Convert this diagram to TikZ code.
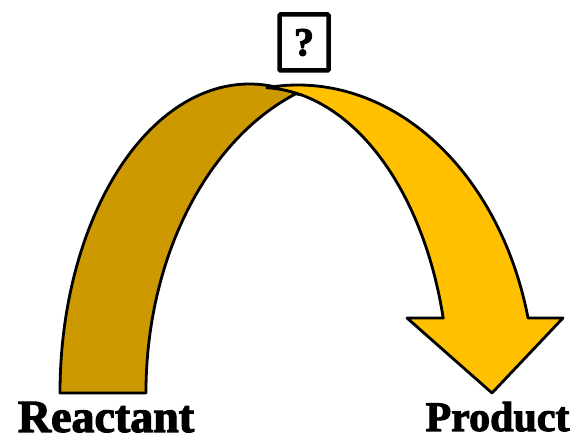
\documentclass[tikz,border=0pt]{standalone}
\usepackage{fontspec}
\newfontfamily\heavy{Liberation Serif Bold}[BoldFont={Liberation Serif Bold},BoldFeatures={FakeBold=2.5}]
\definecolor{backgold}{HTML}{CC9900}
\definecolor{frontgold}{HTML}{FFC000}
\begin{document}
\begin{tikzpicture}[x=1pt,y=1pt,
  band/.style={draw=black, line width=2.8pt, line join=round},
  lbl/.style={anchor=base, inner sep=0pt}]
\useasboundingbox (0,0) rectangle (573,438);
% back (left) band
\path[band, fill=backgold] (60,45)
  arc[start angle=180, end angle=75, x radius=189.4, y radius=309]
  -- (297.1,344.9)
  arc[start angle=110.4, end angle=180, x radius=232, y radius=320]
  -- cycle;
% front (right) band with arrow head
\path[band, fill=frontgold] (267,350.4)
  arc[start angle=97.4, end angle=14.1, x radius=237.6, y radius=308]
  -- (563,120) -- (492,45) -- (407,120) -- (443.2,119.9)
  arc[start angle=14.2, end angle=87.9, x radius=189, y radius=305.5]
  -- cycle;
% question box
\node[draw, line width=4.5pt, rounded corners=1pt, minimum width=49pt, minimum height=56pt,
  inner sep=0pt, font=\heavy\bfseries\fontsize{40}{40}\selectfont] (q) at (304,395.5) {?};
% labels
\node[lbl, font=\heavy\bfseries\fontsize{46}{46}\selectfont] (reactant) at (106,6) {Reactant};
\node[lbl, font=\heavy\bfseries\fontsize{42}{42}\selectfont] (product) at (497.5,7) {Product};
\end{tikzpicture}
\end{document}
